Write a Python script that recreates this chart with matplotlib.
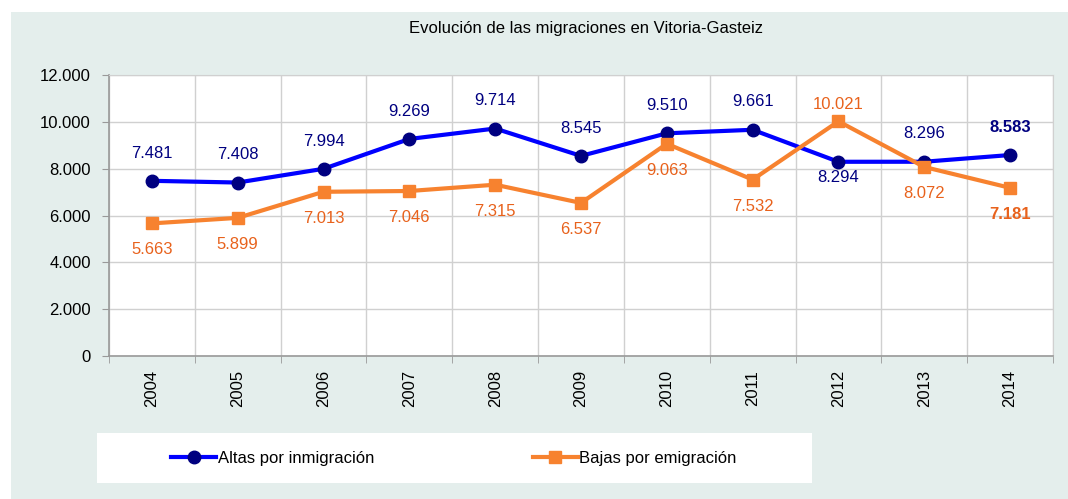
import matplotlib.pyplot as plt
from matplotlib.patches import Rectangle

years = ["2004", "2005", "2006", "2007", "2008", "2009", "2010", "2011", "2012", "2013", "2014"]
altas = [7481, 7408, 7994, 9269, 9714, 8545, 9510, 9661, 8294, 8296, 8583]
bajas = [5663, 5899, 7013, 7046, 7315, 6537, 9063, 7532, 10021, 8072, 7181]

plt.rcParams["font.family"] = ["Liberation Sans", "DejaVu Sans"]

BG = "#e4eeec"
BLUE = "#0000ff"
NAVY = "#000080"
ORANGE = "#f7822f"
ORANGE_TXT = "#e8621c"


def fmt(v):
    return f"{v:,}".replace(",", ".")


fig = plt.figure(figsize=(10.68, 4.99), dpi=100, facecolor="white")
# chart area background (white margin at top/left)
fig.patches.append(Rectangle((11 / 1068, 0), 1, 1 - 12 / 499,
                             transform=fig.transFigure, facecolor=BG, edgecolor="none", zorder=-10))

ax = fig.add_axes([109 / 1068, 1 - 356 / 499, (1053 - 109) / 1068, (356 - 75) / 499])
ax.set_facecolor("white")

x = list(range(len(years)))
ax.plot(x, altas, color=BLUE, lw=3, marker="o", ms=9, mfc=NAVY, mec=NAVY,
        label="Altas por inmigración", zorder=3)
ax.plot(x, bajas, color=ORANGE, lw=3, marker="s", ms=9, mfc=ORANGE, mec=ORANGE,
        label="Bajas por emigración", zorder=3)

# data labels (2012 is flipped and sits closer to the point)
for i, v in enumerate(altas):
    dy = -11 if years[i] == "2012" else 20
    ax.annotate(fmt(v), (i, v), xytext=(0, dy), textcoords="offset points",
                ha="center", va="center", fontsize=12, color=NAVY,
                fontweight="bold" if i == len(years) - 1 else "normal")
for i, v in enumerate(bajas):
    dy = 12 if years[i] == "2012" else -19
    ax.annotate(fmt(v), (i, v), xytext=(0, dy), textcoords="offset points",
                ha="center", va="center", fontsize=12, color=ORANGE_TXT,
                fontweight="bold" if i == len(years) - 1 else "normal")

ax.set_xlim(-0.5, len(years) - 0.5)
ax.set_ylim(0, 12000)
ax.set_yticks(range(0, 12001, 2000))
ax.set_yticklabels([fmt(v) for v in range(0, 12001, 2000)], fontsize=12)
ax.set_xticks(x)
ax.set_xticklabels(years, rotation=90, fontsize=12)
ax.tick_params(axis="x", length=0, pad=10)
ax.set_xticks([i - 0.5 for i in range(len(years) + 1)], minor=True)
ax.tick_params(axis="x", which="minor", length=5, color="#999999")
ax.tick_params(axis="y", length=5, color="#999999", pad=8)

ax.grid(True, axis="y", color="#d0d0d0", lw=1)
ax.grid(True, axis="x", which="minor", color="#d0d0d0", lw=1)
ax.set_axisbelow(True)
for s in ["top", "right"]:
    ax.spines[s].set_color("#d0d0d0")
for s in ["left", "bottom"]:
    ax.spines[s].set_color("#999999")
    ax.spines[s].set_linewidth(1.2)

fig.text(586 / 1068, 1 - 28 / 499, "Evolución de las migraciones en Vitoria-Gasteiz",
         ha="center", va="center", fontsize=12)

# legend box
fig.patches.append(Rectangle((97 / 1068, 1 - 483 / 499), 715 / 1068, 50 / 499,
                             transform=fig.transFigure, facecolor="white", edgecolor="none"))
fig.legend(loc="center", bbox_to_anchor=(454 / 1068, 1 - 458 / 499), ncol=2, frameon=False,
           fontsize=12, handlelength=2.7, handletextpad=0.1, columnspacing=9.5)

plt.savefig("out.png", dpi=100, facecolor="white")
